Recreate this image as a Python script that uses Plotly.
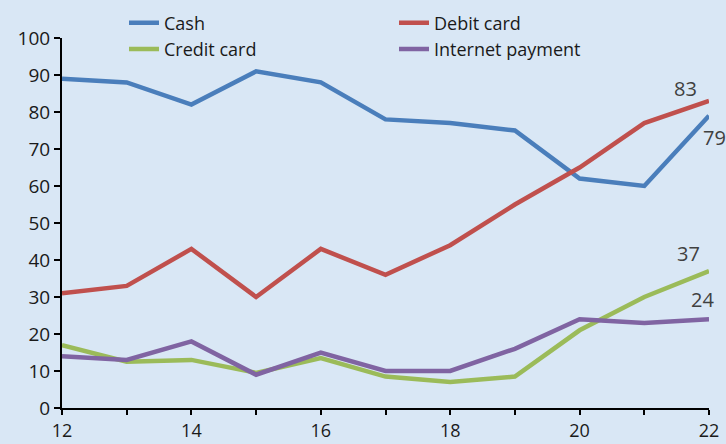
import plotly.graph_objects as go

years = [12, 13, 14, 15, 16, 17, 18, 19, 20, 21, 22]
cash = [89, 88, 82, 91, 88, 78, 77, 75, 62, 60, 79]
debit = [31, 33, 43, 30, 43, 36, 44, 55, 65, 77, 83]
credit = [17, 12.5, 13, 9.5, 13.5, 8.5, 7, 8.5, 21, 30, 37]
internet = [14, 13, 18, 9, 15, 10, 10, 16, 24, 23, 24]

series = [
    ("Cash", cash, "#4a7ebb", "legend"),
    ("Debit card", debit, "#c0504d", "legend2"),
    ("Credit card", credit, "#9bbb59", "legend"),
    ("Internet payment", internet, "#8064a2", "legend2"),
]

bg = "#d9e7f5"
fig = go.Figure()
for name, vals, col, lg in series:
    fig.add_trace(go.Scatter(x=years, y=vals, name=name, mode="lines", legend=lg,
                             line=dict(color=col, width=4.5)))

# end labels
fig.add_annotation(x=years[-1], y=debit[-1], text=str(debit[-1]), showarrow=False,
                   xanchor="right", yanchor="bottom", xshift=-10, yshift=-3)
fig.add_annotation(x=years[-1], y=cash[-1], text=str(cash[-1]), showarrow=False,
                   xanchor="center", yanchor="top", xshift=5, yshift=-6)
fig.add_annotation(x=years[-1], y=credit[-1], text=str(credit[-1]), showarrow=False,
                   xanchor="right", yanchor="bottom", xshift=-7, yshift=2)
fig.add_annotation(x=years[-1], y=internet[-1], text=str(internet[-1]), showarrow=False,
                   xanchor="right", yanchor="bottom", xshift=7, yshift=4)

legend_common = dict(orientation="v", yref="container", xref="container", y=0.99,
                     yanchor="top", xanchor="left", bgcolor="rgba(0,0,0,0)",
                     font=dict(size=18), tracegroupgap=0, itemwidth=30,
                     traceorder="normal")
fig.update_layout(
    width=726, height=444,
    margin=dict(l=62, r=17, t=38, b=36, autoexpand=False),
    paper_bgcolor=bg, plot_bgcolor=bg,
    font=dict(family="Open Sans, Noto Sans, sans-serif", size=18, color="#1a1a1a"),
    showlegend=True,
    legend=dict(x=124 / 726, **legend_common),
    legend2=dict(x=394 / 726, **legend_common),
)
fig.update_annotations(font=dict(size=20, color="#404040"))
fig.update_xaxes(range=[12, 22], tickvals=[12, 14, 16, 18, 20, 22], ticks="outside",
                 ticklen=5, tickwidth=2, tickcolor="black", showline=True, linecolor="black",
                 linewidth=2, showgrid=False, zeroline=False,
                 minor=dict(dtick=1, ticks="outside", ticklen=5, tickwidth=2, tickcolor="black",
                            showgrid=False),
                 tickfont=dict(size=18))
fig.update_yaxes(range=[0, 100], dtick=10, ticks="outside", ticklen=6, tickwidth=2,
                 tickcolor="black", showline=True, linecolor="black", linewidth=2,
                 showgrid=False, zeroline=False, tickfont=dict(size=19))
fig.write_html("out.html")
